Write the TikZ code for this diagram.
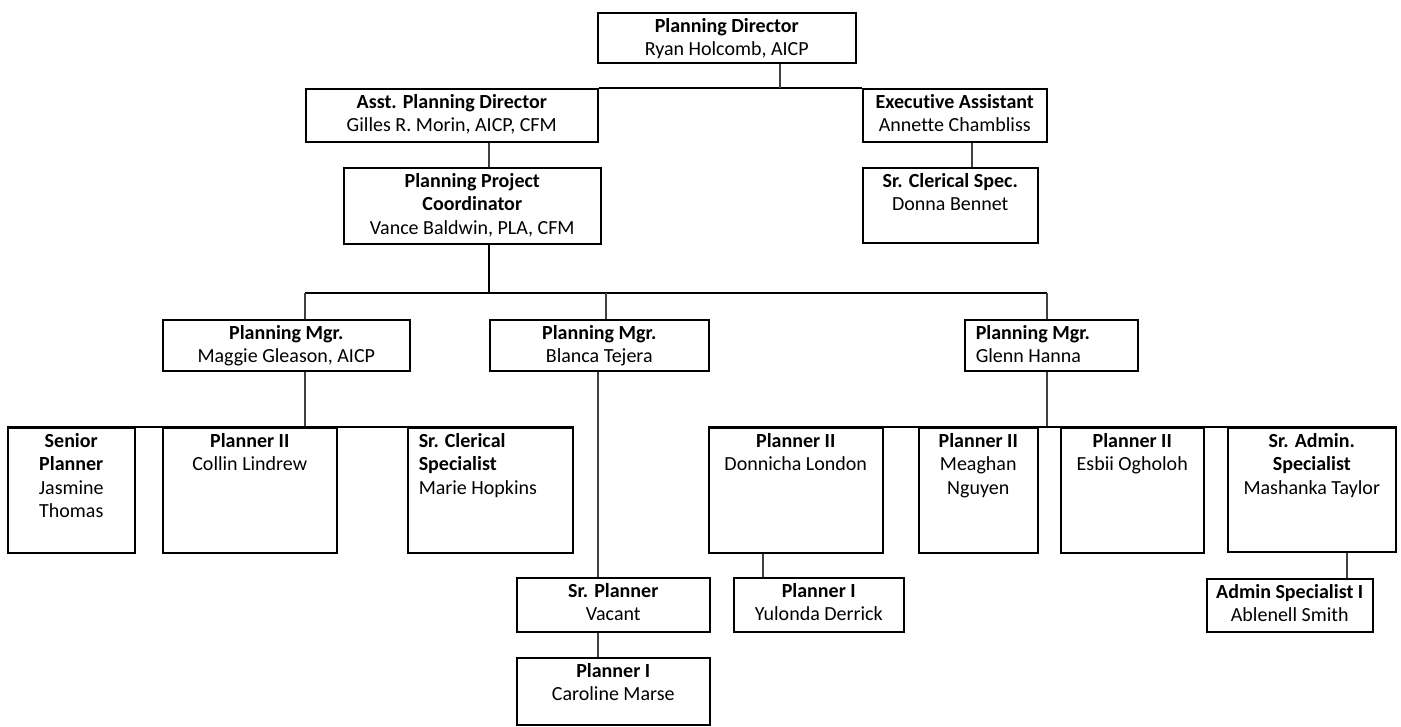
\documentclass[tikz,border=0pt]{standalone}
\usepackage{fontspec}
\setmainfont{Carlito}[Ligatures=CommonOff]
\usepackage{tikz}
\usetikzlibrary{positioning}

\tikzset{
  unit/.style={draw=black, line width=1.5pt, inner sep=0pt, anchor=north west,
               font=\fontsize{20}{23.5}\selectfont},
  link/.style={draw=black!75, line width=1.2pt},
  trunk/.style={draw=black, line width=1.8pt}
}

% #1 alignment, #2 name, #3 x, #4 y, #5 width, #6 height, #7 title, #8 person
\newcommand{\orgunit}[8][\centering]{%
  \node[unit] (#2) at (#3,#4)
    {\parbox[t][#6pt][t]{#5pt}{#1\rule{0pt}{19.5pt}\textbf{#7}\\#8}};}

\begin{document}
\begin{tikzpicture}[x=1pt, y=-1pt]
    \useasboundingbox (0,0) rectangle (1401,726);

    % top levels
    \orgunit{dir}{597}{12}{258}{50}{Planning Director}{Ryan Holcomb, AICP}
    \orgunit{asst}{305}{88}{292}{53}{Asst. Planning Director}{Gilles R. Morin, AICP, CFM}
    \orgunit{exec}{862}{88}{184}{53}{Executive Assistant}{Annette Chambliss}
    \orgunit{coord}{343}{167}{257}{76}{Planning Project\\Coordinator}{Vance Baldwin, PLA, CFM}
    \orgunit{donna}{862}{167}{175}{75}{Sr. Clerical Spec.}{Donna Bennet}

    % managers
    \orgunit{maggie}{162}{319}{247}{51}{Planning Mgr.}{Maggie Gleason, AICP}
    \orgunit{blanca}{489}{319}{219}{51}{Planning Mgr.}{Blanca Tejera}
    \orgunit[\raggedright\leftskip=11pt]{glenn}{964}{319}{173}{51}{Planning Mgr.}{Glenn Hanna}

    % staff
    \orgunit{senior}{7}{427}{127}{125}{Senior\\Planner}{Jasmine\\Thomas}
    \orgunit{collin}{162}{427}{174}{125}{Planner II}{Collin Lindrew}
    \orgunit[\raggedright\leftskip=11pt]{marie}{407}{427}{165}{125}{Sr. Clerical\\Specialist}{Marie Hopkins}
    \orgunit{donnicha}{708}{427}{174}{125}{Planner II}{Donnicha London}
    \orgunit{meaghan}{918}{427}{119}{125}{Planner II}{Meaghan\\Nguyen}
    \orgunit{esbii}{1060}{427}{143}{125}{Planner II}{Esbii Ogholoh}
    \orgunit{sradmin}{1227}{427}{168}{124}{Sr. Admin.\\Specialist}{Mashanka Taylor}
    \orgunit{srpl}{516}{577}{193}{54}{Sr. Planner}{Vacant}
    \orgunit{caroline}{516}{657}{193}{67}{Planner I}{Caroline Marse}
    \orgunit{yulonda}{733}{577}{170}{54}{Planner I}{Yulonda Derrick}
    \orgunit{adminone}{1206}{578}{166}{53}{Admin Specialist I}{Ablenell Smith}

    % connector points
    \coordinate (topbar) at (780,88);
    \coordinate (asstline) at (489,0);
    \coordinate (execline) at (972,0);
    \coordinate (barC) at (489,293);
    \coordinate (barL) at (305,293);
    \coordinate (barM) at (606,293);
    \coordinate (barR) at (1047,293);
    \coordinate (blancaline) at (598,0);
    \coordinate (donline) at (763,0);
    \coordinate (adminline) at (1347,0);

    % connectors
    \draw[trunk] (asst.north east) -- (exec.north west);
    \draw[link] (dir.south -| topbar) -- (topbar);
    \draw[link] (asst.south -| asstline) -- (coord.north -| asstline);
    \draw[link] (exec.south -| execline) -- (donna.north -| execline);
    \draw[trunk] (coord.south -| barC) -- (barC);
    \draw[trunk] (barL) -- (barR);
    \draw[link] (barL) -- (maggie.north -| barL);
    \draw[link] (barM) -- (blanca.north -| barM);
    \draw[link] (barR) -- (glenn.north -| barR);
    \draw[link] (maggie.south -| barL) -- (collin.north -| barL);
    \draw[trunk] (senior.north west) -- (marie.north east);
    \draw[link] (blanca.south -| blancaline) -- (srpl.north -| blancaline);
    \draw[link] (srpl.south -| blancaline) -- (caroline.north -| blancaline);
    \draw[link] (glenn.south -| barR) -- (esbii.north -| barR);
    \draw[trunk] (donnicha.north west) -- (sradmin.north east);
    \draw[link] (donnicha.south -| donline) -- (yulonda.north -| donline);
    \draw[link] (sradmin.south -| adminline) -- (adminone.north -| adminline);
\end{tikzpicture}
\end{document}
